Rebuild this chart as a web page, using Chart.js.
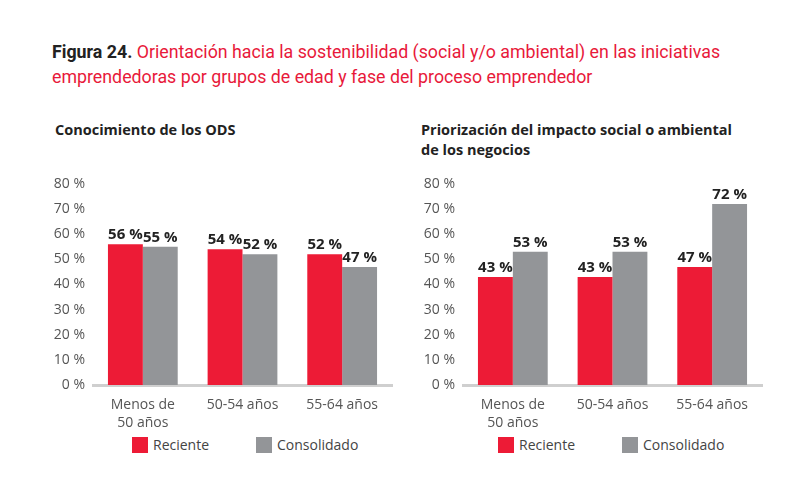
<!DOCTYPE html>
<html>
<head>
<meta charset="utf-8">
<script src="https://cdn.jsdelivr.net/npm/chart.js@4"></script>
<style>
  body { margin: 0; background: #fff; width: 810px; height: 497px; position: relative; overflow: hidden; font-family: "Open Sans", sans-serif; }
  .title { position: absolute; left: 52px; top: 39px; font-family: Roboto, sans-serif; font-size: 17.8px; line-height: 25px; color: #e8193a; }
  .title b { color: #222; }
  .sub { position: absolute; font-size: 14.5px; font-weight: bold; color: #222; line-height: 20px; }
  .box { position: absolute; }
  .legend { position: absolute; top: 437px; font-size: 14px; color: #444; }
  .legend span.sw { position: absolute; width: 16px; height: 16px; top: 0; }
  .legend span.tx { position: absolute; top: -2px; white-space: nowrap; }
</style>
</head>
<body>
<div class="title"><b>Figura 24.</b> Orientación hacia la sostenibilidad (social y/o ambiental) en las iniciativas<br>emprendedoras por grupos de edad y fase del proceso emprendedor</div>
<div class="sub" style="left:55px; top:120px;">Conocimiento de los ODS</div>
<div class="sub" style="left:421px; top:120px;">Priorización del impacto social o ambiental<br>de los negocios</div>

<div class="box" style="left:40px; top:174px; width:360px; height:255px;"><canvas id="chartOds"></canvas></div>
<div class="box" style="left:410px; top:174px; width:360px; height:255px;"><canvas id="chartImpacto"></canvas></div>

<div class="legend" id="legendOds" style="left:132px;"></div>
<div class="legend" id="legendImpacto" style="left:498px;"></div>

<script>
// Data
const categories = [["Menos de", "50 años"], "50-54 años", "55-64 años"];
const seriesNames = ["Reciente", "Consolidado"];
const seriesColors = ["#ed1b36", "#939598"];
const odsReciente = [56, 54, 52];
const odsConsolidado = [55, 52, 47];
const impactoReciente = [43, 43, 47];
const impactoConsolidado = [53, 53, 72];
const yTicks = [0, 10, 20, 30, 40, 50, 60, 70, 80];

// Draws the value labels above each bar
const valueLabels = {
  id: "valueLabels",
  afterDatasetsDraw(chart) {
    const ctx = chart.ctx;
    ctx.save();
    ctx.font = "bold 15px 'Open Sans', sans-serif";
    ctx.fillStyle = "#222";
    ctx.textAlign = "center";
    ctx.textBaseline = "bottom";
    chart.data.datasets.forEach((ds, i) => {
      chart.getDatasetMeta(i).data.forEach((bar, j) => {
        ctx.fillText(ds.data[j] + " %", bar.x, bar.y - 2);
      });
    });
    ctx.restore();
  }
};

function makeChart(id, reciente, consolidado) {
  const ctx = document.getElementById(id).getContext("2d");
  return new Chart(ctx, {
    type: "bar",
    data: {
      labels: categories,
      datasets: [
        { label: seriesNames[0], data: reciente, backgroundColor: seriesColors[0] },
        { label: seriesNames[1], data: consolidado, backgroundColor: seriesColors[1] }
      ]
    },
    options: {
      responsive: true,
      maintainAspectRatio: false,
      animation: false,
      layout: { padding: { top: 10, right: 8, bottom: 0, left: 0 } },
      datasets: { bar: { categoryPercentage: 0.7, barPercentage: 1.0 } },
      scales: {
        x: {
          grid: { display: false },
          border: { display: true, color: "#cfcfcf", width: 3 },
          ticks: { color: "#555", font: { size: 14, family: "'Open Sans', sans-serif", lineHeight: 1.3 }, padding: 3, maxRotation: 0 },
          afterFit(scale) { scale.height = 44; }
        },
        y: {
          min: 0,
          max: 80,
          grid: { display: false },
          border: { display: false },
          afterBuildTicks(scale) { scale.ticks = yTicks.map(v => ({ value: v })); },
          ticks: {
            color: "#555",
            font: { size: 14, family: "'Open Sans', sans-serif" },
            padding: 0,
            callback: v => v + " %"
          },
          afterFit(scale) { scale.width = 53; }
        }
      },
      plugins: {
        legend: { display: false },
        tooltip: { enabled: false }
      }
    },
    plugins: [valueLabels]
  });
}

makeChart("chartOds", odsReciente, odsConsolidado);
makeChart("chartImpacto", impactoReciente, impactoConsolidado);

// Simple HTML legend built from the series arrays
function buildLegend(id) {
  const el = document.getElementById(id);
  const offsets = [0, 124];
  seriesNames.forEach((name, i) => {
    el.innerHTML += '<span class="sw" style="left:' + offsets[i] + 'px;background:' + seriesColors[i] + '"></span>' +
      '<span class="tx" style="left:' + (offsets[i] + 21) + 'px">' + name + '</span>';
  });
}
buildLegend("legendOds");
buildLegend("legendImpacto");
</script>
</body>
</html>
